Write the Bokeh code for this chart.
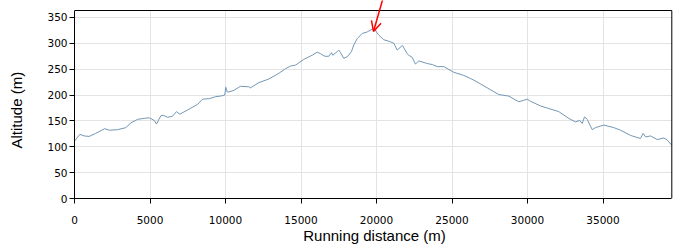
from bokeh.plotting import figure
from bokeh.models import Range1d, Arrow, OpenHead, FixedTicker, ColumnDataSource, Title, LinearAxis
from bokeh.embed import file_html
from bokeh.resources import INLINE

distance = [0, 350, 640, 970, 1410, 2000, 2300, 2850, 3400, 3730, 4170, 4620, 4950, 5280, 5430,
            5720, 5870, 6160, 6490, 6750, 6970, 7480, 8150, 8480, 8920, 9360, 9670, 9950, 10020,
            10110, 10220, 10550, 10880, 11000, 11540, 11660, 12200, 12870, 13530, 13970, 14300,
            14640, 15190, 15740, 16070, 16290, 16580, 16840, 17020, 17100, 17400, 17500, 17620,
            17830, 18060, 18340, 18500, 18720, 19050, 19380, 19820, 20150, 20480, 20930, 21150,
            21370, 21720, 22030, 22140, 22360, 22580, 22800, 23360, 23690, 24020, 24460, 25120,
            25780, 26220, 26440, 27330, 28100, 28760, 29420, 29760, 29980, 30200, 30860, 31410,
            32070, 32730, 33180, 33460, 33620, 33780, 33950, 34290, 34500, 35050, 35720, 36160,
            36820, 37480, 37660, 37820, 38150, 38590, 39030, 39250, 39556]
altitude = [111, 124, 121, 120, 126, 135, 132, 133, 137, 146, 153, 155, 156, 151, 144,
            160, 161, 157, 159, 168, 163, 171, 182, 192, 193, 197, 198, 200, 215,
            206, 206, 209, 215, 217, 216, 214, 224, 231, 242, 251, 256,
            258, 269, 277, 283, 280, 275, 275, 282, 277, 284, 287, 282,
            271, 274, 284, 297, 309, 319, 322, 329, 316, 307, 303, 300,
            287, 296, 280, 277, 273, 260, 266, 261, 259, 255, 255, 244,
            238, 232, 229, 214, 201, 198, 187, 190, 192, 188, 179, 174,
            168, 155, 148, 151, 145, 158, 153, 133, 137, 142, 137, 132,
            122, 116, 126, 119, 121, 114, 117, 113, 103]

x_ticks = [0, 5000, 10000, 15000, 20000, 25000, 30000, 35000]
y_ticks = [0, 50, 100, 150, 200, 250, 300, 350]

x_max = 39556
y_max = 363.5
arrow_start = (20480, 392)
arrow_end = (19800, 323)

# the frame is extended a little above and to the right so the arrow can leave the panel;
# the visible panel border is drawn at (x_max, y_max)
x_view = x_max * 600 / 597.3
y_view = y_max * 198 / 188

p = figure(width=700, height=250, output_backend="svg", toolbar_location=None,
           x_range=Range1d(0, x_view), y_range=Range1d(0, y_view),
           min_border_left=74, min_border_right=26, min_border_top=0, min_border_bottom=52)
p.background_fill_color = "white"
p.border_fill_color = "white"
p.outline_line_color = None

# white masks outside the panel
p.quad(left=[0, x_max], right=[x_view, x_view], bottom=[y_max, 0], top=[y_view, y_view],
       fill_color="white", line_color=None)

src = ColumnDataSource(dict(x=distance, y=altitude))
p.line("x", "y", source=src, line_color="#7397b5", line_width=1)

# panel border (top and right)
p.segment(x0=[0, x_max], y0=[y_max, 0], x1=[x_max, x_max], y1=[y_max, y_max],
          line_color="black", line_width=1)

p.add_layout(Arrow(end=OpenHead(size=10, line_color="red", line_width=1.5),
                   x_start=arrow_start[0], y_start=arrow_start[1],
                   x_end=arrow_end[0], y_end=arrow_end[1],
                   line_color="red", line_width=1.5))

for ax in (p.xaxis[0], p.yaxis[0]):
    ax.axis_line_color = "black"
    ax.major_tick_line_color = "black"
    ax.minor_tick_line_color = None
    ax.major_tick_in = 0
    ax.major_tick_out = 5
    ax.major_label_text_font = "DejaVu Sans"
    ax.major_label_text_font_size = "10.5px"
    ax.major_label_text_color = "black"
    ax.axis_label_text_font = "Liberation Sans"
    ax.axis_label_text_font_size = "15px"
    ax.axis_label_text_font_style = "normal"
    ax.axis_label_text_color = "black"

p.xaxis.ticker = FixedTicker(ticks=x_ticks)
p.yaxis.ticker = FixedTicker(ticks=y_ticks)
p.xaxis.bounds = (0, x_max)
p.yaxis.bounds = (0, y_max)
p.xaxis.axis_label = "Running distance (m)"
p.xaxis.major_label_standoff = 12
p.xaxis.axis_label_standoff = 0
p.yaxis.major_label_standoff = 2

# blank spacer axis (white tick, empty label), so the y title sits further out
spacer = LinearAxis(ticker=FixedTicker(ticks=[0]), axis_line_color=None,
                    major_tick_line_color="white", minor_tick_line_color=None,
                    major_tick_in=0, major_tick_out=15, major_label_standoff=0,
                    major_label_overrides={0: ""})
p.add_layout(spacer, "left")

# y axis title, placed along the visible panel
p.add_layout(Title(text="Altitude (m)", align="left", offset=50,
                   text_font="Liberation Sans", text_font_size="15px",
                   text_font_style="normal", text_color="black"), "left")

p.xgrid.ticker = FixedTicker(ticks=x_ticks)
p.ygrid.ticker = FixedTicker(ticks=y_ticks)
p.grid.grid_line_color = "#e3e3e3"
p.grid.grid_line_width = 1

open("out.html", "w").write(file_html(p, INLINE))
